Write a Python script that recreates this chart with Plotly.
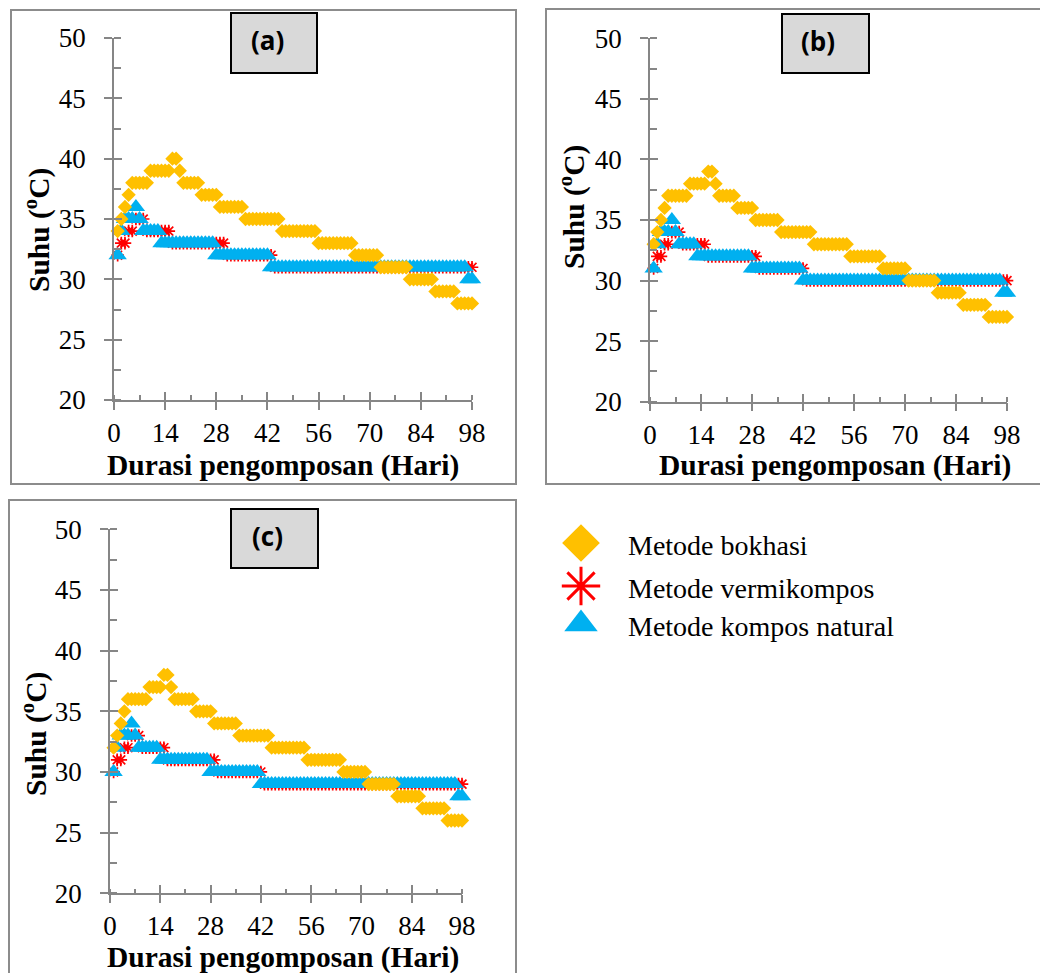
import plotly.graph_objects as go

# page body has an 8px margin; figure sized to fit the 1048x973 window
OFF = 8
W, H = 1048 - OFF, 973 - OFF

# ---------------- data ----------------
DAYS = list(range(1, 99))
X_TICKS = [0, 14, 28, 42, 56, 70, 84, 98]
Y_TICKS = [20, 25, 30, 35, 40, 45, 50]

SERIES_NAMES = ["Metode bokhasi", "Metode vermikompos", "Metode kompos natural"]
PANEL_LABELS = ["(a)", "(b)", "(c)"]
X_TITLE = "Durasi pengomposan (Hari)"
Y_TITLE = "Suhu (<sup>o</sup>C)"

# step data: day at which each temperature level starts, and the level
BOKHASI_A_START = [1, 2, 3, 4, 5, 10, 16, 18, 19, 24, 29, 36, 46, 56, 66, 73, 81, 88, 94]
BOKHASI_A_TEMP = [34, 35, 36, 37, 38, 39, 40, 39, 38, 37, 36, 35, 34, 33, 32, 31, 30, 29, 28]
VERMI_A_START = [1, 2, 4, 6, 9, 16, 31, 44]
VERMI_A_TEMP = [32, 33, 34, 35, 34, 33, 32, 31]
NATURAL_A_START = [1, 2, 3, 6, 7, 8, 13, 28, 43, 97]
NATURAL_A_TEMP = [32, 34, 35, 36, 35, 34, 33, 32, 31, 30]

BOKHASI_B_START = [1, 2, 3, 4, 5, 11, 16, 18, 19, 24, 29, 36, 45, 55, 64, 71, 79, 86, 93]
BOKHASI_B_TEMP = [33, 34, 35, 36, 37, 38, 39, 38, 37, 36, 35, 34, 33, 32, 31, 30, 29, 28, 27]
VERMI_B_START = [1, 2, 4, 6, 9, 16, 30, 43]
VERMI_B_TEMP = [31, 32, 33, 34, 33, 32, 31, 30]
NATURAL_B_START = [1, 2, 3, 6, 7, 8, 13, 28, 42, 97]
NATURAL_B_TEMP = [31, 33, 34, 35, 34, 33, 32, 31, 30, 29]

BOKHASI_C_START = [1, 2, 3, 4, 5, 11, 15, 17, 18, 24, 29, 36, 45, 55, 65, 72, 80, 87, 94]
BOKHASI_C_TEMP = [32, 33, 34, 35, 36, 37, 38, 37, 36, 35, 34, 33, 32, 31, 30, 29, 28, 27, 26]
VERMI_C_START = [1, 2, 4, 6, 9, 16, 30, 43]
VERMI_C_TEMP = [30, 31, 32, 33, 32, 31, 30, 29]
NATURAL_C_START = [1, 2, 3, 6, 7, 8, 14, 28, 42, 97]
NATURAL_C_TEMP = [30, 32, 33, 34, 33, 32, 31, 30, 29, 28]


def expand(starts, temps):
    out = []
    for d in DAYS:
        v = None
        for s, t in zip(starts, temps):
            if s <= d:
                v = t
        out.append(v)
    return out


PANELS = [
    dict(label=PANEL_LABELS[0],
         bok=expand(BOKHASI_A_START, BOKHASI_A_TEMP),
         ver=expand(VERMI_A_START, VERMI_A_TEMP),
         nat=expand(NATURAL_A_START, NATURAL_A_TEMP)),
    dict(label=PANEL_LABELS[1],
         bok=expand(BOKHASI_B_START, BOKHASI_B_TEMP),
         ver=expand(VERMI_B_START, VERMI_B_TEMP),
         nat=expand(NATURAL_B_START, NATURAL_B_TEMP)),
    dict(label=PANEL_LABELS[2],
         bok=expand(BOKHASI_C_START, BOKHASI_C_TEMP),
         ver=expand(VERMI_C_START, VERMI_C_TEMP),
         nat=expand(NATURAL_C_START, NATURAL_C_TEMP)),
]

# ---------------- styling / layout ----------------
YELLOW = "#FFC000"
RED = "#FF0000"
BLUE = "#00B0F0"
AXIS_GRAY = "#868686"
FRAME_GRAY = "#8C8C8C"
SERIF = "Liberation Serif, Times New Roman, serif"


def fx(px):
    return (px - OFF) / W


def fy(py):
    return 1 - (py - OFF) / H


# plot-area geometry in window pixels: (x0, x98, y50, y20)
GEOM = [
    (114, 472, 38, 400),
    (650, 1007, 38.3, 401.7),
    (110, 462, 529.3, 893.3),
]
FRAMES = [(11, 10, 516, 484), (546, 9, 1050, 484), (9, 500, 516, 980)]
BOXES = [(231, 13, 317, 73), (782, 14, 869, 73), (231, 509, 318, 568)]
XTITLE_POS = [(283, 465), (835, 465), (283, 957)]
YTITLE_POS = [(37, 230), (572, 207), (34, 734)]

fig = go.Figure()
layout = dict(
    width=W, height=H, margin=dict(l=0, r=0, t=0, b=0, pad=0),
    paper_bgcolor="white", plot_bgcolor="white", showlegend=False,
    template="none",
)
shapes = []
annotations = []

for i, p in enumerate(PANELS):
    xa = "x" if i == 0 else f"x{i+1}"
    ya = "y" if i == 0 else f"y{i+1}"
    xkey = "xaxis" if i == 0 else f"xaxis{i+1}"
    ykey = "yaxis" if i == 0 else f"yaxis{i+1}"
    ox_n, oy_n = 4 + i, 7 + i
    x0, x1, y50, y20 = GEOM[i]

    # drawing order: vermikompos, natural, bokhasi on top
    fig.add_trace(go.Scatter(
        x=DAYS, y=p["ver"], mode="markers", xaxis=xa, yaxis=ya, cliponaxis=False,
        marker=dict(symbol="asterisk-open", size=10.5, color=RED,
                    line=dict(color=RED, width=1.7)),
        name=SERIES_NAMES[1]))
    fig.add_trace(go.Scatter(
        x=DAYS, y=p["nat"], mode="markers", xaxis=xa, yaxis=ya, cliponaxis=False,
        marker=dict(symbol="triangle-up", size=16, color=BLUE, line=dict(width=0)),
        name=SERIES_NAMES[2]))
    fig.add_trace(go.Scatter(
        x=DAYS, y=p["bok"], mode="markers", xaxis=xa, yaxis=ya, cliponaxis=False,
        marker=dict(symbol="diamond", size=11, color=YELLOW, line=dict(width=0)),
        name=SERIES_NAMES[0]))

    common_tick = dict(tickcolor=AXIS_GRAY, tickwidth=1.5, showgrid=False,
                       zeroline=False, automargin=False)
    layout[xkey] = dict(
        domain=[fx(x0), fx(x1)], range=[0, 98], anchor=ya,
        showline=True, linecolor=AXIS_GRAY, linewidth=1.5,
        tickmode="array", tickvals=X_TICKS, ticktext=[str(v) for v in X_TICKS],
        ticks="outside", ticklen=8,
        minor=dict(ticks="inside", ticklen=5, dtick=7, tick0=0,
                   tickcolor=AXIS_GRAY, tickwidth=1.5, showgrid=False),
        tickfont=dict(family=SERIF, size=27, color="#000000"),
        ticklabelstandoff=0,
        **common_tick)
    layout[ykey] = dict(
        domain=[fy(y20), fy(y50)], range=[20, 50], anchor=xa,
        showline=True, linecolor=AXIS_GRAY, linewidth=1.5,
        tickmode="array", tickvals=Y_TICKS, ticktext=[str(v) for v in Y_TICKS],
        ticks="outside", ticklen=8,
        minor=dict(ticks="inside", ticklen=7, dtick=2.5, tick0=20,
                   tickcolor=AXIS_GRAY, tickwidth=1.5, showgrid=False),
        tickfont=dict(family=SERIF, size=27, color="#000000"),
        ticklabelstandoff=13,
        **common_tick)
    # overlay axes to make the major ticks cross the axis line
    layout[f"xaxis{ox_n}"] = dict(
        overlaying=xa, anchor=ya, range=[0, 98], showline=False,
        tickmode="array", tickvals=X_TICKS, ticks="inside", ticklen=8,
        showticklabels=False, **common_tick)
    layout[f"yaxis{oy_n}"] = dict(
        overlaying=ya, anchor=xa, range=[20, 50], showline=False,
        tickmode="array", tickvals=Y_TICKS, ticks="inside", ticklen=8,
        showticklabels=False, **common_tick)
    fig.add_trace(go.Scatter(x=[None], y=[None], xaxis=f"x{ox_n}", yaxis=f"y{oy_n}",
                             mode="markers", hoverinfo="skip"))

    # panel frame
    fl, ft, fr, fb = FRAMES[i]
    shapes.append(dict(type="rect", xref="paper", yref="paper",
                       x0=fx(fl), x1=fx(fr), y0=fy(fb), y1=fy(ft),
                       line=dict(color=FRAME_GRAY, width=2), fillcolor="rgba(0,0,0,0)",
                       layer="below"))
    # label box
    bl, bt, br, bb = BOXES[i]
    shapes.append(dict(type="rect", xref="paper", yref="paper",
                       x0=fx(bl), x1=fx(br), y0=fy(bb), y1=fy(bt),
                       line=dict(color="black", width=2), fillcolor="#D9D9D9"))
    annotations.append(dict(
        text=f"<b>{p['label']}</b>", xref="paper", yref="paper",
        x=fx(bl + 36), y=fy((bt + bb) / 2 - 3), xanchor="center", yanchor="middle",
        showarrow=False, font=dict(family="Open Sans, Liberation Sans, sans-serif",
                                   size=26, color="black")))
    # axis titles
    tx, ty = XTITLE_POS[i]
    annotations.append(dict(
        text=f"<b>{X_TITLE}</b>", xref="paper", yref="paper", x=fx(tx), y=fy(ty),
        xanchor="center", yanchor="middle", showarrow=False,
        font=dict(family=SERIF, size=29.5, color="black")))
    tx, ty = YTITLE_POS[i]
    annotations.append(dict(
        text=f"<b>{Y_TITLE}</b>", xref="paper", yref="paper", x=fx(tx), y=fy(ty),
        xanchor="center", yanchor="middle", showarrow=False, textangle=-90,
        font=dict(family=SERIF, size=29.5, color="black")))

# ---------------- legend (custom, large symbols) ----------------
LEG_Y = [543, 586, 624]
LEG_SYMBOLS = ["diamond", "asterisk-open", "triangle-up"]
LEG_COLORS = [YELLOW, RED, BLUE]
LEG_SIZES = [29, 32, 29]
layout["xaxis10"] = dict(domain=[fx(560), fx(1040)], range=[560, 1040], visible=False,
                         anchor="y10", fixedrange=True, automargin=False)
layout["yaxis10"] = dict(domain=[fy(660), fy(510)], range=[660, 510], visible=False,
                         anchor="x10", fixedrange=True, automargin=False)
for k in range(3):
    if LEG_SYMBOLS[k] == "asterisk-open":
        mk = dict(symbol=LEG_SYMBOLS[k], size=LEG_SIZES[k], color=LEG_COLORS[k],
                  line=dict(color=LEG_COLORS[k], width=3))
    else:
        mk = dict(symbol=LEG_SYMBOLS[k], size=LEG_SIZES[k], color=LEG_COLORS[k],
                  line=dict(width=0))
    fig.add_trace(go.Scatter(x=[581], y=[LEG_Y[k]], xaxis="x10", yaxis="y10",
                             mode="markers", marker=mk, cliponaxis=False,
                             hoverinfo="skip"))
    annotations.append(dict(
        text=SERIES_NAMES[k], xref="x10", yref="y10", x=626, y=LEG_Y[k] + 2,
        xanchor="left", yanchor="middle", showarrow=False,
        font=dict(family=SERIF, size=28, color="black")))

layout["shapes"] = shapes
layout["annotations"] = annotations
fig.update_layout(**layout)
fig.write_html("out.html")
